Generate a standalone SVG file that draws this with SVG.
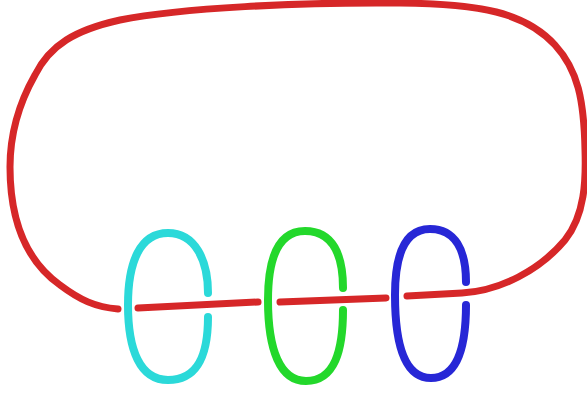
<svg xmlns="http://www.w3.org/2000/svg" width="587" height="396" viewBox="0 0 587 396">
<style>
path{fill:none;stroke-linecap:round;stroke-linejoin:round}
.r{stroke:#d62728;stroke-width:7}
.loop{stroke-width:8}
</style>
<rect width="587" height="396" fill="#fff"/>
<g id="red">
<path class="r" d="M 407 296 L 462 293 C 500 291 540 270 565 240 C 585 215 586 180 585 150 C 584 100 578 70 555 45 C 525 12 480 4 400 3 C 300 2 180 8 120 20 C 75 30 50 45 35 75 C 18 105 10 135 10 167 C 10 220 25 260 60 285 C 80 300 95 307 118 309"/>
<path class="r" d="M 138 308 L 258 302"/>
<path class="r" d="M 280 302 L 386 298"/>
</g>
<g id="cyan"><path class="loop" stroke="#2bd9d9" d="M 208 293 C 208 260 195 233 168 233 C 140 233 128 262 128 305 C 128 350 140 380 168 380 C 198 380 208 355 208 317"/></g>
<g id="green"><path class="loop" stroke="#23d82b" d="M 343 288 C 343 255 333 231 305 231 C 278 231 268 258 268 300 C 268 350 280 381 306 381 C 335 381 343 350 343 310"/></g>
<g id="blue"><path class="loop" stroke="#2727d6" d="M 466 282 C 466 250 455 229 430 229 C 405 229 395 255 395 295 C 395 345 405 378 431 378 C 458 378 466 345 466 305"/></g>
</svg>
